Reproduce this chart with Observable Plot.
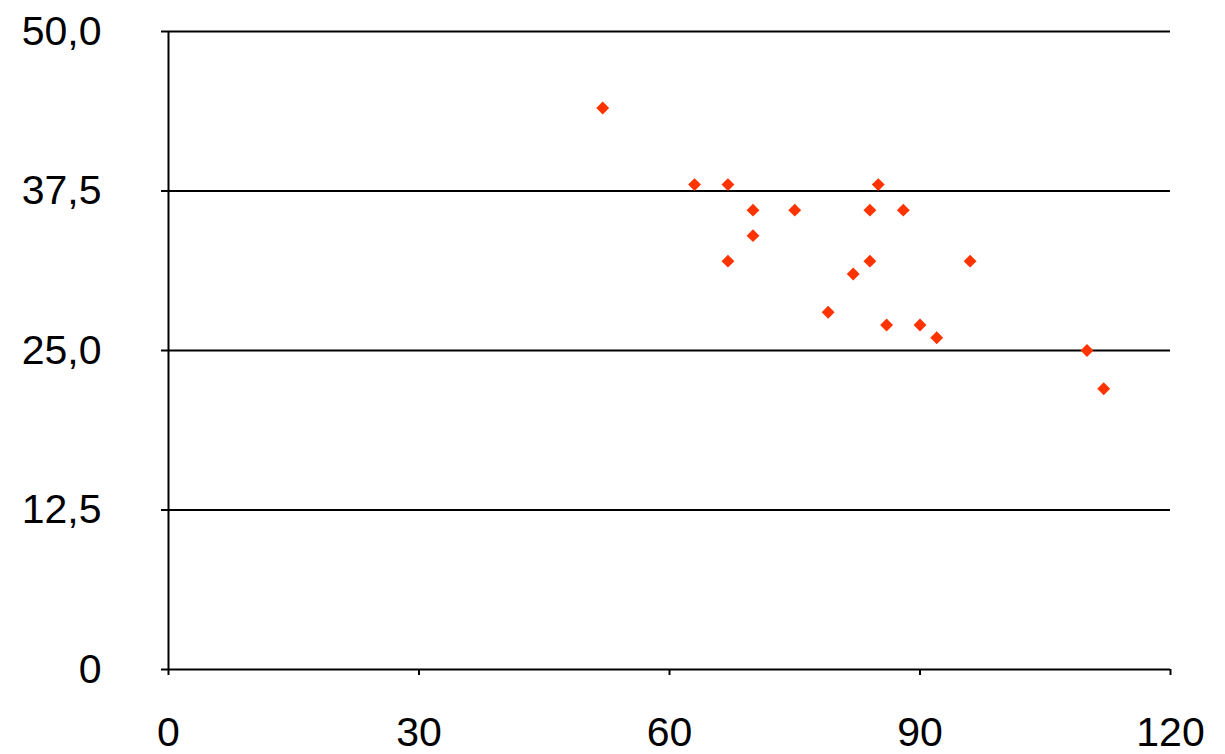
<!DOCTYPE html>
<html>
<head>
<meta charset="utf-8">
<script src="https://cdn.jsdelivr.net/npm/d3@7"></script>
<script src="https://cdn.jsdelivr.net/npm/@observablehq/plot@0.6"></script>
<style>
  html, body { margin: 0; padding: 0; background: #fff; }
  #chart svg { display: block; }
</style>
</head>
<body>
<div id="chart"></div>
<script>
// Data
const xValues = [52, 63, 67, 67, 70, 70, 75, 79, 82, 84, 84, 85, 86, 88, 90, 92, 96, 110, 112];
const yValues = [44, 38, 38, 32, 36, 34, 36, 28, 31, 36, 32, 38, 27, 36, 27, 26, 32, 25, 22];
const xTicks = [0, 30, 60, 90, 120];
const yTicks = [0, 12.5, 25, 37.5, 50];
const yTickLabels = ["0", "12,5", "25,0", "37,5", "50,0"];
const gridValues = [12.5, 25, 37.5, 50];

const points = xValues.map((x, i) => ({x, y: yValues[i]}));

const chart = Plot.plot({
  width: 1225,
  height: 754,
  marginLeft: 168,
  marginRight: 55,
  marginTop: 31,
  marginBottom: 85,
  style: {
    fontFamily: "'Liberation Sans', Arial, Helvetica, sans-serif",
    fontSize: "41px",
    color: "#000",
    background: "#fff"
  },
  x: {domain: [0, 120]},
  y: {domain: [0, 50]},
  marks: [
    Plot.ruleY(gridValues, {stroke: "#000", strokeWidth: 2}),
    Plot.ruleY([0], {stroke: "#000", strokeWidth: 2}),
    Plot.ruleX([0], {stroke: "#000", strokeWidth: 2}),
    Plot.axisX({
      ticks: xTicks,
      tickSize: 6,
      tickPadding: 41,
      strokeWidth: 2,
      label: null,
      fontSize: 41
    }),
    Plot.axisY({
      ticks: yTicks,
      tickSize: 7,
      tickPadding: 60,
      strokeWidth: 2,
      label: null,
      fontSize: 41,
      tickFormat: d => yTickLabels[yTicks.indexOf(d)]
    }),
    Plot.dot(points, {
      x: "x",
      y: "y",
      symbol: "diamond2",
      r: 5.8,
      fill: "#ff3300",
      stroke: "none"
    })
  ]
});
document.getElementById("chart").appendChild(chart);
</script>
</body>
</html>
